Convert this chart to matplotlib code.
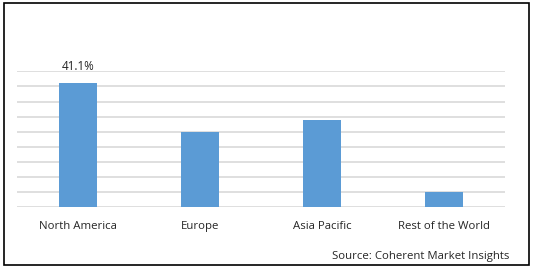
import matplotlib.pyplot as plt
from matplotlib.patches import Rectangle

regions = ['North America', 'Europe', 'Asia Pacific', 'Rest of the World']
share = [41.1, 24.9, 28.8, 5.2]
label_text = ['41.1%', '', '', '']

W, H = 534, 270
fig = plt.figure(figsize=(W / 100, H / 100), dpi=100)
plt.rcParams['font.family'] = ['Open Sans', 'DejaVu Sans']

# axes area in pixels: x 16.7..505, y 71.3..207.3 (top-down)
ax = fig.add_axes([16.7 / W, 1 - 207.3 / H, (505 - 16.7) / W, (207.3 - 71.3) / H])
x = range(len(regions))
ax.bar(x, share, width=0.314, color='#5B9BD5', zorder=3)
ax.set_xlim(-0.5, len(regions) - 0.5)
ax.set_ylim(0, 45)
ax.set_yticks([i * 5 for i in range(10)])
ax.yaxis.grid(True, color='#D9D9D9', linewidth=1.2, zorder=0)
ax.tick_params(left=False, labelleft=False, bottom=False)
ax.set_xticks(list(x))
ax.set_xticklabels(regions, fontsize=8.2, color='#262626')
ax.tick_params(axis='x', pad=6.5)
for s in ax.spines.values():
    s.set_visible(False)

for i, v in enumerate(share):
    if label_text[i]:
        ax.text(i, v + 3.2, label_text[i], ha='center', va='bottom',
                fontsize=8.4, color='#262626')

fig.text(509 / W, 1 - 257 / H, 'Source: Coherent Market Insights', ha='right',
         va='center', fontsize=8.2, color='#262626')

fig.patches.append(Rectangle((4 / W, 1 - 265 / H), 525 / W, 262 / H,
                             transform=fig.transFigure, fill=False,
                             edgecolor='black', linewidth=1.2))

fig.savefig('out.png', dpi=100)
